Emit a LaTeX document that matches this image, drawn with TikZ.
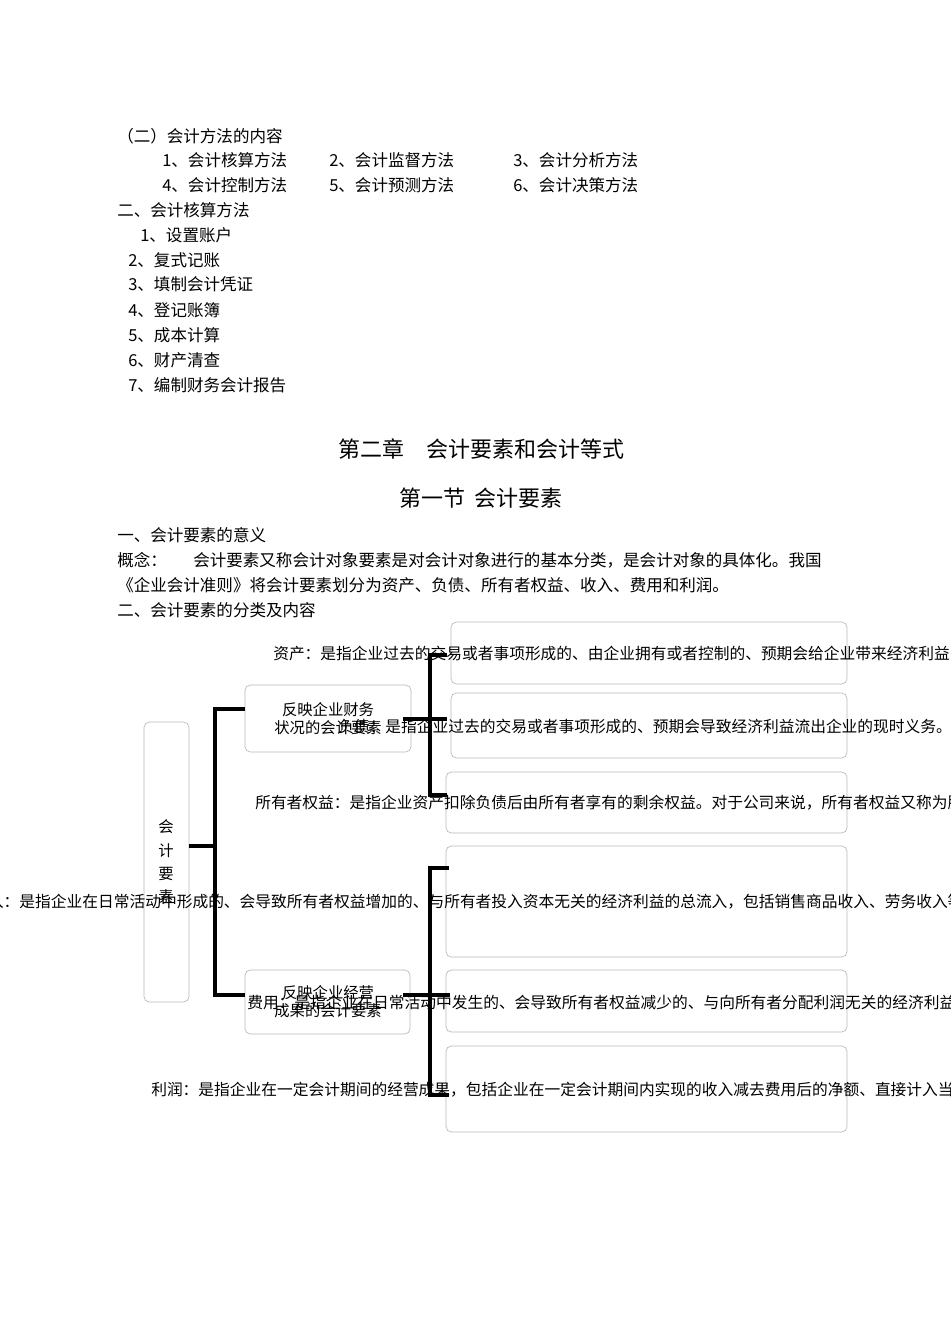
\documentclass[tikz,border=0pt]{standalone}
\usepackage{fontspec}
\setmainfont{Noto Sans CJK SC}
\begin{document}
\begin{tikzpicture}[x=0.75pt,y=-0.75pt,
  txt/.style={anchor=base west,inner sep=0pt,font=\fontsize{12.4pt}{14pt}\selectfont},
  dtxt/.style={anchor=base west,inner sep=0pt,font=\fontsize{11.8pt}{14pt}\selectfont},
  ttl/.style={anchor=base,inner sep=0pt,font=\fontsize{16.5pt}{18pt}\selectfont},
  rbox/.style={draw=gray!55,line width=0.5pt,rounded corners=4pt},
  lbl/.style={align=center,inner sep=0pt,font=\fontsize{11.5pt}{13.5pt}\selectfont},
  conn/.style={line width=2.4pt}]
\useasboundingbox[fill=white] (0,0) rectangle (950,1344);
\node[txt] (t1) at (117,143) {（二）会计方法的内容};
\node[txt] (t2) at (162,167) {1、会计核算方法};
\node[txt] (t3) at (329,167) {2、会计监督方法};
\node[txt] (t4) at (513,167) {3、会计分析方法};
\node[txt] (t5) at (162,192) {4、会计控制方法};
\node[txt] (t6) at (329,192) {5、会计预测方法};
\node[txt] (t7) at (513,192) {6、会计决策方法};
\node[txt] (t8) at (117,217) {二、会计核算方法};
\node[txt] (t9) at (140,242) {1、设置账户};
\node[txt] (t10) at (128,267) {2、复式记账};
\node[txt] (t11) at (128,291) {3、填制会计凭证};
\node[txt] (t12) at (128,316) {4、登记账簿};
\node[txt] (t13) at (128,341) {5、成本计算};
\node[txt] (t14) at (128,366) {6、财产清查};
\node[txt] (t15) at (128,391) {7、编制财务会计报告};
\node[ttl] (h1) at (481,457) {第二章\quad 会计要素和会计等式};
\node[ttl] (h2) at (481,506) {第一节\ \ 会计要素};
\node[txt] (t16) at (117,541) {一、会计要素的意义};
\node[txt] (t17) at (117,566) {概念：\hspace{1.6em}会计要素又称会计对象要素是对会计对象进行的基本分类，是会计对象的具体化。我国};
\node[txt] (t18) at (117,591) {《企业会计准则》将会计要素划分为资产、负债、所有者权益、收入、费用和利润。};
\node[txt] (t19) at (117,616) {二、会计要素的分类及内容};
% boxes
\draw[rbox] (144,722) rectangle (189,1002);
\node[lbl] (root) at (166,862) {会\\[4pt]计\\[4pt]要\\[4pt]素};
\draw[rbox] (245,685) rectangle (411,752);
\node[lbl] (A) at (328,719) {反映企业财务\\状况的会计要素};
\draw[rbox] (245,970) rectangle (410,1034);
\node[lbl] (B) at (328,1002) {反映企业经营\\成果的会计要素};
\draw[rbox] (451,622) rectangle (847,684);
\draw[rbox] (451,693) rectangle (847,758);
\draw[rbox] (446,772) rectangle (847,833);
\draw[rbox] (446,846) rectangle (847,957);
\draw[rbox] (446,970) rectangle (847,1032);
\draw[rbox] (446,1046) rectangle (847,1132);
\node[dtxt] (a1) at (273,659) {资产：是指企业过去的交易或者事项形成的、由企业拥有或者控制的、预期会给企业带来经济利益的资源。};
\node[dtxt] (a2) at (338,732) {负债：是指企业过去的交易或者事项形成的、预期会导致经济利益流出企业的现时义务。};
\node[dtxt] (a3) at (255,808) {所有者权益：是指企业资产扣除负债后由所有者享有的剩余权益。对于公司来说，所有者权益又称为股东权益。};
\node[dtxt] (b1) at (-28,907) {收入：是指企业在日常活动中形成的、会导致所有者权益增加的、与所有者投入资本无关的经济利益的总流入，包括销售商品收入、劳务收入等。};
\node[dtxt] (b2) at (247,1008) {费用：是指企业在日常活动中发生的、会导致所有者权益减少的、与向所有者分配利润无关的经济利益的总流出。};
\node[dtxt] (b3) at (151,1095) {利润：是指企业在一定会计期间的经营成果，包括企业在一定会计期间内实现的收入减去费用后的净额、直接计入当期利润的利得和损失等。};
% connectors
\coordinate (r0) at (189,846);
\coordinate (Ain) at (245,709);
\coordinate (Bin) at (245,995);
\coordinate (Aout) at (403,719);
\coordinate (Bout) at (403,995);
\coordinate (a1c) at (447,655);
\coordinate (a3c) at (447,795);
\coordinate (b1c) at (449,868);
\coordinate (b3c) at (449,1095);
\draw[conn] (r0) -- (215,846);
\draw[conn] (Ain) -- (215,709) -- (215,995) -- (Bin);
\draw[conn] (a1c) -- (430,655) -- (430,795) -- (a3c);
\draw[conn] (Aout) -- (447,719);
\draw[conn] (b1c) -- (430,868) -- (430,1095) -- (b3c);
\draw[conn] (Bout) -- (450,995);
\end{tikzpicture}
\end{document}
